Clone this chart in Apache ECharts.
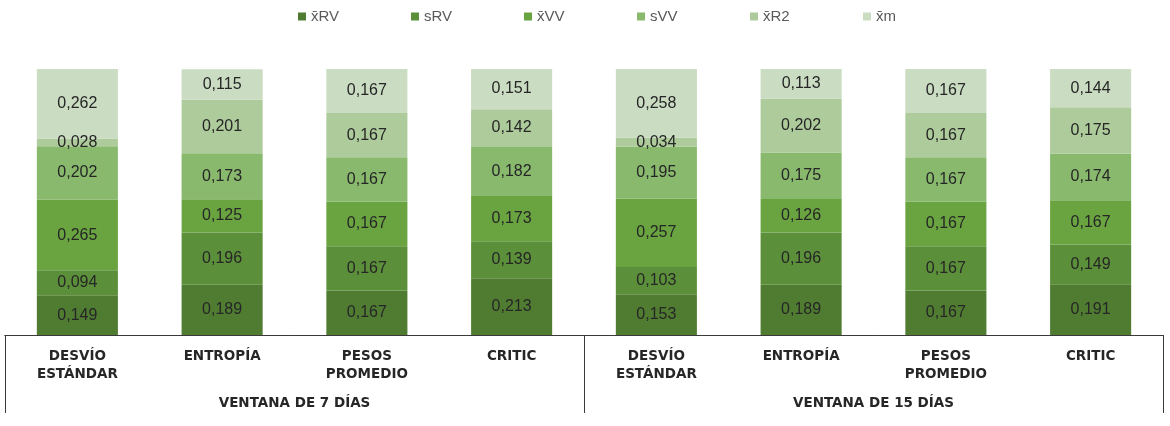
<!DOCTYPE html>
<html>
<head>
<meta charset="utf-8">
<script src="https://cdn.jsdelivr.net/npm/echarts@6/dist/echarts.min.js"></script>
<style>
html,body{margin:0;padding:0;background:#fff;}
#chart{width:1170px;height:426px;}
</style>
</head>
<body>
<div id="chart"></div>
<script>
const categories = ['DESVÍO\nESTÁNDAR', 'ENTROPÍA', 'PESOS\nPROMEDIO', 'CRITIC',
                    'DESVÍO\nESTÁNDAR', 'ENTROPÍA', 'PESOS\nPROMEDIO', 'CRITIC'];
const groups = ['VENTANA DE 7 DÍAS', 'VENTANA DE 15 DÍAS'];
const seriesNames = ['x\u0304RV', 'sRV', 'x\u0304VV', 'sVV', 'x\u0304R2', 'x\u0304m'];
const xRV = [0.149, 0.189, 0.167, 0.213, 0.153, 0.189, 0.167, 0.191];
const sRV = [0.094, 0.196, 0.167, 0.139, 0.103, 0.196, 0.167, 0.149];
const xVV = [0.265, 0.125, 0.167, 0.173, 0.257, 0.126, 0.167, 0.167];
const sVV = [0.202, 0.173, 0.167, 0.182, 0.195, 0.175, 0.167, 0.174];
const xR2 = [0.028, 0.201, 0.167, 0.142, 0.034, 0.202, 0.167, 0.175];
const xm  = [0.262, 0.115, 0.167, 0.151, 0.258, 0.113, 0.167, 0.144];
const seriesData = [xRV, sRV, xVV, sVV, xR2, xm];
const colors = ['#507c32', '#5b8f39', '#69a441', '#88b96d', '#adcb9b', '#cadcc1'];

const FONT = '"Liberation Sans", Arial, sans-serif';
const BOLDFONT = '"DejaVu Sans", "Liberation Sans", Arial, sans-serif';
const chart = echarts.init(document.getElementById('chart'));
chart.setOption({
  animation: false,
  textStyle: { fontFamily: FONT },
  legend: seriesNames.map((name, i) => ({
    top: 9, left: 298 + 113 * i, padding: 0,
    itemWidth: 8, itemHeight: 8,
    icon: 'rect',
    textStyle: { color: '#595959', fontSize: 15, fontFamily: FONT },
    data: [name]
  })),
  grid: { left: 5, right: 7, top: 69, bottom: 91 },
  xAxis: [{
    type: 'category',
    data: categories,
    axisLine: { show: true, lineStyle: { color: '#3a3a3a', width: 1 } },
    axisTick: { show: false },
    axisLabel: {
      interval: 0, margin: 12, color: '#262626',
      fontSize: 13.5, fontWeight: 'bold', lineHeight: 18, fontFamily: BOLDFONT
    }
  }, {
    type: 'category',
    data: groups,
    position: 'bottom',
    axisLine: { show: true, lineStyle: { color: '#3a3a3a', width: 1 } },
    axisTick: { show: true, length: 78, lineStyle: { color: '#3a3a3a', width: 1 } },
    axisLabel: {
      interval: 0, margin: 61, color: '#262626',
      fontSize: 13.5, fontWeight: 'bold', fontFamily: BOLDFONT
    }
  }],
  yAxis: {
    type: 'value', min: 0, max: 1, show: false,
    splitLine: { show: false }
  },
  series: seriesNames.map((name, i) => ({
    name: name,
    type: 'bar',
    stack: 'total',
    xAxisIndex: 0,
    barWidth: '56%',
    itemStyle: { color: colors[i] },
    label: {
      show: true, position: 'inside', color: '#262626', fontSize: 16,
      fontFamily: FONT,
      formatter: p => p.value.toFixed(3).replace('.', ',')
    },
    data: seriesData[i]
  }))
});
</script>
</body>
</html>
